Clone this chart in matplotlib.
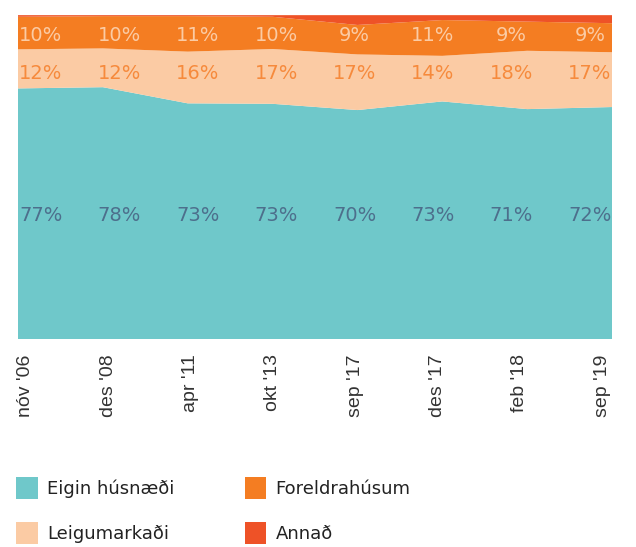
import matplotlib
matplotlib.use("Agg")
import matplotlib.pyplot as plt
import numpy as np
from matplotlib.patches import Patch

# ---------------------------------------------------------------------------
# Data
# ---------------------------------------------------------------------------
periods = ["nóv '06", "des '08", "apr '11", "okt '13",
           "sep '17", "des '17", "feb '18", "sep '19"]
eigin = [77, 78, 73, 73, 70, 73, 71, 72]
leigu = [12, 12, 16, 17, 17, 14, 18, 17]
foreldra = [10, 10, 11, 10, 9, 11, 9, 9]
annad = [0.5, 0.3, 0.3, 0.5, 3, 1.5, 2, 2.5]

series_names = ["Eigin húsnæði", "Leigumarkaði", "Foreldrahúsum", "Annað"]
colors = ["#6fc8ca", "#fbcba4", "#f47d22", "#ee5227"]

# ---------------------------------------------------------------------------
# Plot
# ---------------------------------------------------------------------------
fig = plt.figure(figsize=(6.36, 5.47), dpi=100)
ax = fig.add_axes([0.0283, 0.380, 0.934, 0.5923])

x = np.arange(len(periods))
n = len(periods)
stack = np.array([eigin, leigu, foreldra, annad], dtype=float)
shares = stack / stack.sum(axis=0) * 100

ax.stackplot(x, shares, colors=colors, linewidth=0)

# value labels on fixed rows, spread slightly inward from the edges
label_x = 0.27 + x * 0.924
rows = [(eigin, 0.383, "#4d6f8c"), (leigu, 0.821, "#f68a3c"),
        (foreldra, 0.938, "#fbcba4")]
for vals, ypos, col in rows:
    for lx, v in zip(label_x, vals):
        ax.text(lx, ypos, f"{v}%", ha="center", va="center", color=col,
                fontsize=14, transform=ax.get_xaxis_transform())

ax.set_xticks(0.094 + x * 0.97)
ax.set_xticklabels(periods, rotation=90, fontsize=14, color="#333333",
                   family="Liberation Sans")
ax.tick_params(axis="x", length=0, pad=11)
ax.set_yticks([])
ax.set_xlim(0, n - 1)
ax.set_ylim(0, 100)
for s in ax.spines.values():
    s.set_visible(False)

handles = [Patch(facecolor=c, edgecolor="none") for c in colors]
fig.legend(handles, series_names, ncol=2, loc="upper left",
           bbox_to_anchor=(0.0, 0.157), frameon=False, fontsize=13,
           handlelength=1.2, handleheight=1.5, handletextpad=0.5,
           columnspacing=3.9, labelspacing=1.25, labelcolor="#222222")

fig.savefig("out.png", dpi=100)
